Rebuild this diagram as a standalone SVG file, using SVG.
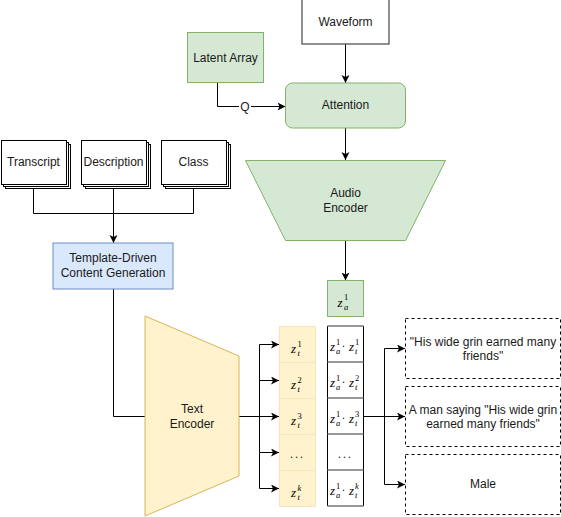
<svg xmlns="http://www.w3.org/2000/svg" width="561" height="517" viewBox="0 0 561 517">
<defs>
<marker id="arr" markerUnits="userSpaceOnUse" markerWidth="9" markerHeight="9" refX="8" refY="4" orient="auto">
<path d="M0,0 L8,4 L0,8 L2,4 z" fill="#000"/>
</marker>
<style>
text{font-family:"Liberation Sans",Arial,sans-serif;font-size:12px;fill:#1a1a1a;text-anchor:middle}
.m{font-family:"Liberation Serif","Times New Roman",serif;font-style:italic;font-size:13px;text-anchor:start;fill:#000}
.s{font-family:"Liberation Serif","Times New Roman",serif;font-size:8.5px;text-anchor:start;fill:#000}
.si{font-family:"Liberation Serif","Times New Roman",serif;font-style:italic;font-size:8.5px;text-anchor:start;fill:#000}
.green{fill:#d5e8d4;stroke:#82b366;stroke-width:1}
.box{fill:#fff;stroke:#000;stroke-width:1}
.dash{fill:#fff;stroke:#000;stroke-width:1;stroke-dasharray:3,3}
.c{fill:none;stroke:#000;stroke-width:1}
.ycell{fill:#fff2cc;stroke:#f5e6b8;stroke-width:1}
</style>
</defs>

<g id="connectors">
<path class="c" d="M345.5,44 V83" marker-end="url(#arr)"/>
<path class="c" d="M217.5,82.5 V106.5 H285.5" marker-end="url(#arr)"/>
<path class="c" d="M345.5,128 V160" marker-end="url(#arr)"/>
<path class="c" d="M345.5,240.5 V280.5" marker-end="url(#arr)"/>
<path class="c" d="M33.5,184 V213.5 H113.5"/>
<path class="c" d="M193.5,184 V213.5 H113.5"/>
<path class="c" d="M113.5,184 V243" marker-end="url(#arr)"/>
<path class="c" d="M113.5,289 V416.5 H145" stroke="#333"/>
<path class="c" d="M239,416.5 H259.5 V344.5 H279" marker-end="url(#arr)"/>
<path class="c" d="M259.5,380.5 H279" marker-end="url(#arr)"/>
<path class="c" d="M239,416.5 H279" marker-end="url(#arr)"/>
<path class="c" d="M259.5,416.5 V452.5 H279" marker-end="url(#arr)"/>
<path class="c" d="M259.5,452.5 V488.5 H279" marker-end="url(#arr)"/>
<path class="c" d="M363.5,416.5 H384.5 V348.5 H405" marker-end="url(#arr)"/>
<path class="c" d="M384.5,416.5 H405" marker-end="url(#arr)"/>
<path class="c" d="M384.5,416.5 V484.5 H405" marker-end="url(#arr)"/>
<rect x="239" y="100" width="12" height="13" fill="#fff"/>
<text x="245" y="110.5">Q</text>
</g>

<g id="waveform">
<rect x="302" y="-1" width="87" height="45" fill="#fff" stroke="#555" stroke-width="1.3"/>
<text x="345.5" y="26">Waveform</text>
</g>

<g id="latent-array">
<rect class="green" x="187.5" y="32.5" width="76" height="50"/>
<text x="225.5" y="62">Latent Array</text>
</g>

<g id="attention">
<rect class="green" x="285.5" y="83" width="120" height="45" rx="7" ry="7"/>
<text x="345.5" y="109">Attention</text>
</g>

<g id="audio-encoder">
<polygon class="green" points="245.5,160.5 445.5,160.5 405.5,240.5 285.5,240.5"/>
<text x="345.5" y="197">Audio</text>
<text x="345.5" y="212">Encoder</text>
</g>

<g id="transcript">
<rect class="box" x="5.5" y="144.5" width="65" height="44"/>
<rect class="box" x="3.5" y="142.5" width="65" height="44"/>
<rect class="box" x="1.5" y="140.5" width="65" height="44"/>
<text x="33.5" y="166">Transcript</text>
</g>

<g id="description">
<rect class="box" x="85.5" y="144.5" width="65" height="44"/>
<rect class="box" x="83.5" y="142.5" width="65" height="44"/>
<rect class="box" x="81.5" y="140.5" width="65" height="44"/>
<text x="113.5" y="166">Description</text>
</g>

<g id="class">
<rect class="box" x="165.5" y="144.5" width="65" height="44"/>
<rect class="box" x="163.5" y="142.5" width="65" height="44"/>
<rect class="box" x="161.5" y="140.5" width="65" height="44"/>
<text x="193.5" y="166">Class</text>
</g>

<g id="template">
<rect x="53" y="243" width="120" height="46" fill="#dae8fc" stroke="#6c8ebf" stroke-width="1"/>
<text x="113" y="262">Template-Driven</text>
<text x="113" y="276.5">Content Generation</text>
</g>

<g id="text-encoder">
<polygon points="145,316 239,356 239,476 145,516" fill="#fff2cc" stroke="#d6b656" stroke-width="1"/>
<text x="192" y="413">Text</text>
<text x="192" y="428">Encoder</text>
</g>

<g id="za">
<rect class="green" x="327.5" y="280.5" width="36" height="36"/>
<text class="m" x="337.5" y="307">z</text>
<text class="s" x="344" y="300">1</text>
<text class="si" x="344" y="310">a</text>
</g>

<g id="zt-column">
<rect class="ycell" x="279.5" y="326.5" width="36" height="36"/>
<rect class="ycell" x="279.5" y="362.5" width="36" height="36"/>
<rect class="ycell" x="279.5" y="398.5" width="36" height="36"/>
<rect class="ycell" x="279.5" y="434.5" width="36" height="36"/>
<rect class="ycell" x="279.5" y="470.5" width="36" height="36"/>
<text class="m" x="291" y="353">z</text><text class="s" x="297.5" y="347">1</text><text class="si" x="297.5" y="356">t</text>
<text class="m" x="291" y="389">z</text><text class="s" x="297.5" y="383">2</text><text class="si" x="297.5" y="392">t</text>
<text class="m" x="291" y="425">z</text><text class="s" x="297.5" y="419">3</text><text class="si" x="297.5" y="428">t</text>
<text x="297.5" y="458" style="font-family:'Liberation Serif',serif;font-size:12px;letter-spacing:2px">...</text>
<text class="m" x="291" y="497">z</text><text class="si" x="297.5" y="491">k</text><text class="si" x="297.5" y="500">t</text>
</g>

<g id="products">
<rect x="327.5" y="326" width="36" height="180" fill="#fff"/>
<path d="M327.5,326 V506 M363.5,326 V506" stroke="#000" stroke-width="1"/>
<path d="M327.5,326 H363.5 M327.5,362 H363.5 M327.5,398 H363.5 M327.5,434 H363.5 M327.5,470 H363.5 M327.5,506 H363.5" stroke="#777" stroke-width="1.6"/>
<g>
<text class="m" x="330" y="351">z</text><text class="s" x="336" y="345">1</text><text class="si" x="336" y="354">a</text>
<text x="343.5" y="350" style="font-family:'Liberation Serif',serif;font-size:12px">·</text>
<text class="m" x="349" y="351">z</text><text class="s" x="355" y="345">1</text><text class="si" x="355" y="354">t</text>
</g>
<g>
<text class="m" x="330" y="387">z</text><text class="s" x="336" y="381">1</text><text class="si" x="336" y="390">a</text>
<text x="343.5" y="386" style="font-family:'Liberation Serif',serif;font-size:12px">·</text>
<text class="m" x="349" y="387">z</text><text class="s" x="355" y="381">2</text><text class="si" x="355" y="390">t</text>
</g>
<g>
<text class="m" x="330" y="423">z</text><text class="s" x="336" y="417">1</text><text class="si" x="336" y="426">a</text>
<text x="343.5" y="422" style="font-family:'Liberation Serif',serif;font-size:12px">·</text>
<text class="m" x="349" y="423">z</text><text class="s" x="355" y="417">3</text><text class="si" x="355" y="426">t</text>
</g>
<text x="345.5" y="458" style="font-family:'Liberation Serif',serif;font-size:12px;letter-spacing:2px">...</text>
<g>
<text class="m" x="330" y="495">z</text><text class="s" x="336" y="489">1</text><text class="si" x="336" y="498">a</text>
<text x="343.5" y="494" style="font-family:'Liberation Serif',serif;font-size:12px">·</text>
<text class="m" x="349" y="495">z</text><text class="si" x="355" y="489">k</text><text class="si" x="355" y="498">t</text>
</g>
</g>

<g id="out1">
<rect class="dash" x="405.5" y="318.5" width="155" height="60"/>
<text x="483" y="346">"His wide grin earned many</text>
<text x="483" y="360">friends"</text>
</g>

<g id="out2">
<rect class="dash" x="405.5" y="386.5" width="155" height="60"/>
<text x="483" y="413.5">A man saying "His wide grin</text>
<text x="483" y="428">earned many friends"</text>
</g>

<g id="out3">
<rect class="dash" x="405.5" y="454.5" width="155" height="60"/>
<text x="483" y="487.5">Male</text>
</g>
</svg>
